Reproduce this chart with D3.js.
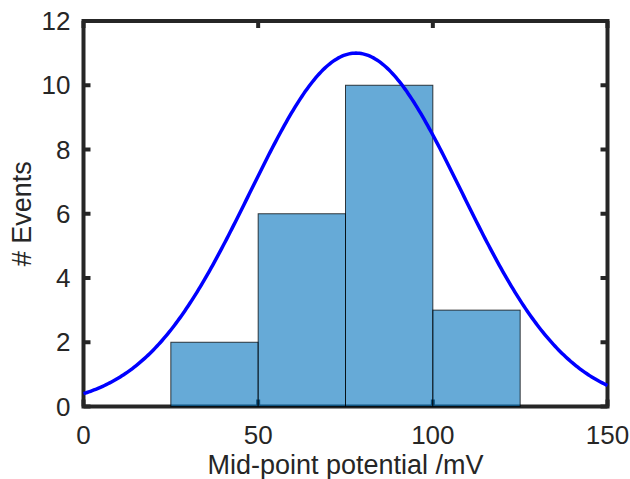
<!DOCTYPE html>
<html>
<head>
<meta charset="utf-8">
<script src="https://cdn.jsdelivr.net/npm/d3@7"></script>
<style>
  body { margin: 0; background: #fff; }
  text { font-family: "Liberation Sans", Arial, sans-serif; fill: #262626; }
</style>
</head>
<body>
<div id="chart"></div>
<script>
// histogram bins (mV) and counts
var binEdges = [25, 50, 75, 100, 125];
var binCounts = [2, 6, 10, 3];

// gaussian fit
var fitAmp = 11.0;
var fitMean = 78;
var fitSigma = 30.3;

var xTicks = [0, 50, 100, 150];
var yTicks = [0, 2, 4, 6, 8, 10, 12];

var W = 630, H = 479;
var margin = {top: 21, right: 22.5, bottom: 72.5, left: 83.5};
var width = W - margin.left - margin.right;
var height = H - margin.top - margin.bottom;

var svg = d3.select("#chart").append("svg")
    .attr("width", W)
    .attr("height", H);

var g = svg.append("g")
    .attr("transform", "translate(" + margin.left + "," + margin.top + ")");

var x = d3.scaleLinear().domain([0, 150]).range([0, width]);
var y = d3.scaleLinear().domain([0, 12]).range([height, 0]);

var axisColor = "#262626";
var tickLen = 7;

// box
g.append("rect")
    .attr("width", width)
    .attr("height", height)
    .attr("fill", "none")
    .attr("stroke", axisColor)
    .attr("stroke-width", 4);

// ticks, inward on all four sides
var ticks = g.append("g").attr("stroke", axisColor).attr("stroke-width", 4);
xTicks.forEach(function(t) {
    ticks.append("line").attr("x1", x(t)).attr("x2", x(t))
        .attr("y1", height).attr("y2", height - tickLen);
    ticks.append("line").attr("x1", x(t)).attr("x2", x(t))
        .attr("y1", 0).attr("y2", tickLen);
});
yTicks.forEach(function(t) {
    ticks.append("line").attr("x1", 0).attr("x2", tickLen)
        .attr("y1", y(t)).attr("y2", y(t));
    ticks.append("line").attr("x1", width).attr("x2", width - tickLen)
        .attr("y1", y(t)).attr("y2", y(t));
});

// tick labels
g.selectAll(".xl").data(xTicks).enter().append("text")
    .attr("x", function(d) { return x(d); })
    .attr("y", height + 37)
    .attr("text-anchor", "middle")
    .style("font-size", "26px")
    .text(function(d) { return d; });

g.selectAll(".yl").data(yTicks).enter().append("text")
    .attr("x", -13)
    .attr("y", function(d) { return y(d) + 9; })
    .attr("text-anchor", "end")
    .style("font-size", "26px")
    .text(function(d) { return d; });

// bars (drawn over the axes, semi-transparent like matlab)
var bars = binCounts.map(function(c, i) {
    return {x0: binEdges[i], x1: binEdges[i + 1], n: c};
});
g.selectAll(".bar").data(bars).enter().append("rect")
    .attr("x", function(d) { return x(d.x0); })
    .attr("y", function(d) { return y(d.n); })
    .attr("width", function(d) { return x(d.x1) - x(d.x0); })
    .attr("height", function(d) { return y(0) - y(d.n); })
    .attr("fill", "#0072bd")
    .attr("fill-opacity", 0.6)
    .attr("stroke", "#000")
    .attr("stroke-opacity", 0.75)
    .attr("stroke-width", 1);

// fitted curve
var xs = d3.range(0, 150.5, 0.5);
var line = d3.line()
    .x(function(d) { return x(d); })
    .y(function(d) {
        var z = (d - fitMean) / fitSigma;
        return y(fitAmp * Math.exp(-0.5 * z * z));
    });
g.append("path")
    .datum(xs)
    .attr("d", line)
    .attr("fill", "none")
    .attr("stroke", "#0000ff")
    .attr("stroke-width", 3.5);

// axis labels
g.append("text")
    .attr("x", width / 2)
    .attr("y", height + 67)
    .attr("text-anchor", "middle")
    .style("font-size", "27px")
    .text("Mid-point potential /mV");

g.append("text")
    .attr("transform", "translate(-53," + (height / 2) + ") rotate(-90)")
    .attr("text-anchor", "middle")
    .style("font-size", "27px")
    .text("# Events");
</script>
</body>
</html>
